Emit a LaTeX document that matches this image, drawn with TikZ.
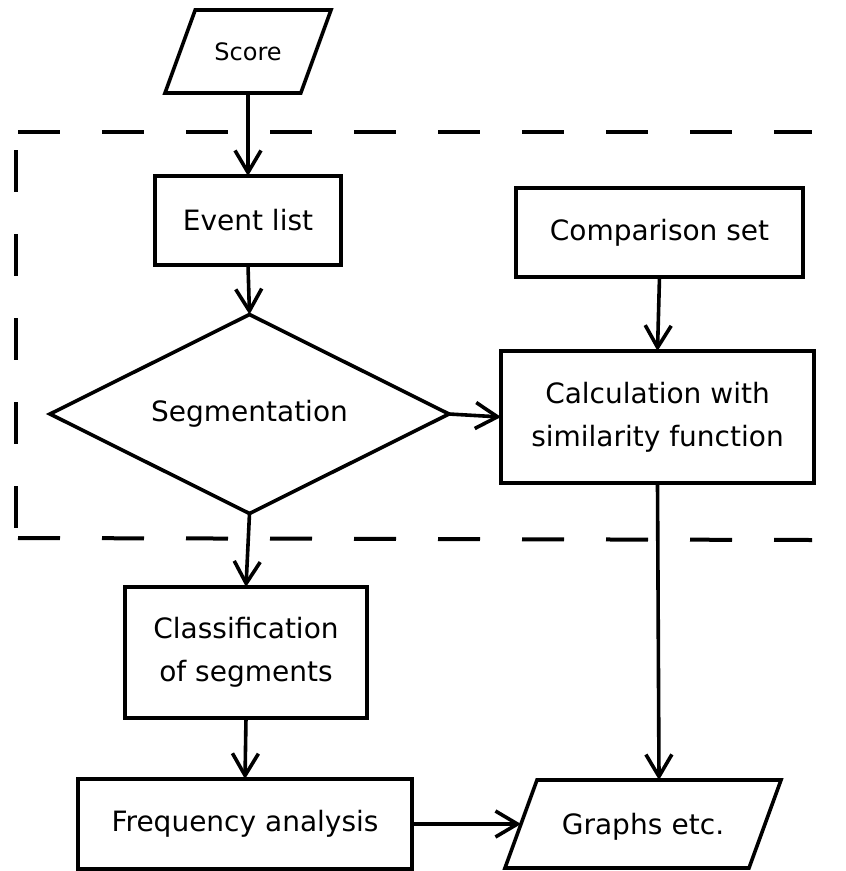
\documentclass[tikz,border=0pt]{standalone}
\usepackage{fontspec}
\setmainfont{DejaVu Sans}
\usetikzlibrary{shapes.geometric, arrows.meta}
\begin{document}
\begin{tikzpicture}[x=1pt, y=-1pt, line width=3.6pt, line join=miter,
        every node/.style={outer sep=0pt, inner sep=0pt, align=center, font=\fontsize{28}{43}\selectfont},
        box/.style={draw, rectangle},
        io/.style={draw, trapezium, trapezium left angle=70, trapezium right angle=110, text depth=0pt},
        decision/.style={draw, diamond, aspect=2},
        flow/.style={-{Straight Barb[length=22pt, width=26pt]}},
        border/.style={dash pattern=on 42pt off 42pt, line width=4pt}]
        \useasboundingbox (0,0) rectangle (846,871);
        % the dashed frame
        \draw[border] (18,132) -- (812,132);
        \draw[border] (16,150) -- (16,528);
        \draw[border] (18,538) -- (812,540);
        \node[io, text width=105.6pt, text height=18pt, inner ysep=32.5pt, font=\fontsize{24}{30}\selectfont] (score) at (248, 51.5) {Score};
        \node[box, minimum width=186pt, minimum height=89pt] (events) at (248, 220.5) {Event list};
        \node[box, minimum width=287pt, minimum height=89pt] (compset) at (659.5, 232.5) {Comparison set};
        \node[decision, minimum width=399pt, minimum height=199pt] (segment) at (249.5, 414) {Segmentation};
        \node[box, minimum width=313pt, minimum height=132pt] (calc) at (657.5, 417) {Calculation with\\similarity function};
        \node[box, minimum width=242pt, minimum height=131pt] (classify) at (246, 652.5) {Classification\\of segments};
        \node[box, minimum width=334pt, minimum height=90pt] (freq) at (245, 824) {Frequency analysis};
        \node[io, text width=212pt, text height=20.4pt, inner ysep=33.8pt] (graphs) at (643, 824) {Graphs etc.};
        % arrows
        \draw[flow] (score.south) -- (events.north);
        \draw[flow] (events.south) -- (segment.north);
        \draw[flow] (compset.south) -- (calc.north);
        \draw[flow] (segment.east) -- (calc.west);
        \draw[flow] (segment.south) -- (classify.north);
        \draw[flow] (classify.south) -- (freq.north);
        \draw[flow] (calc.south) -- (graphs.top side);
        \draw[flow] (freq.east) -- (graphs.left side);
\end{tikzpicture}
\end{document}
